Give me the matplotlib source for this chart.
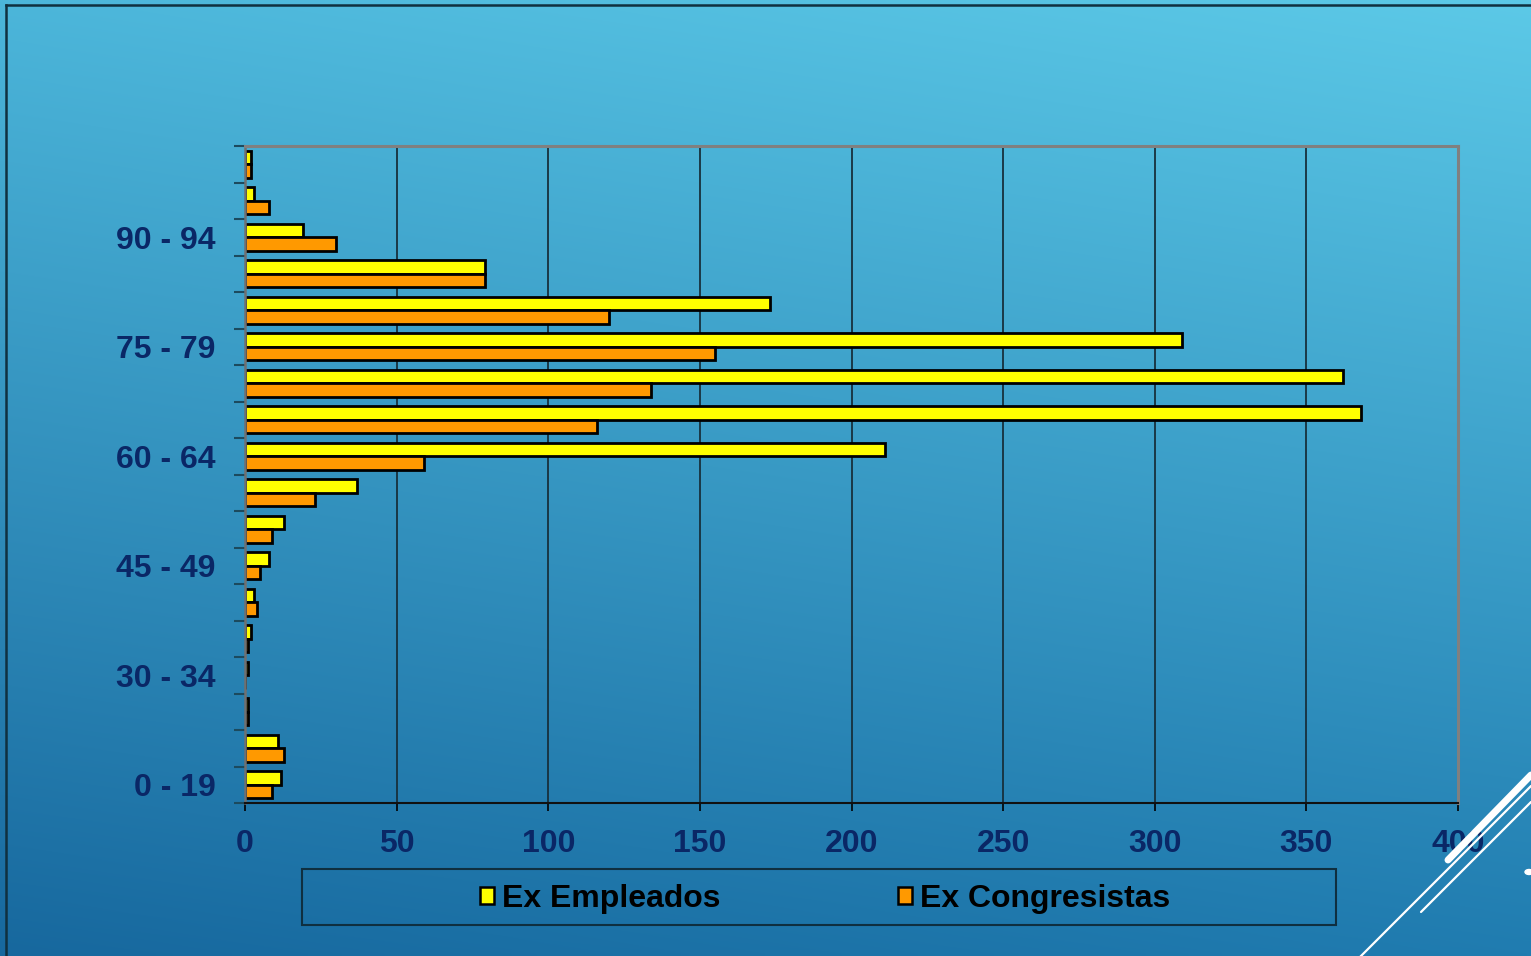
import numpy as np
import matplotlib
matplotlib.use("Agg")
import matplotlib.pyplot as plt
from matplotlib.patches import Patch, Rectangle, Circle
from matplotlib.lines import Line2D

# age groups, bottom to top
categories = ["0 - 19", "20 - 24", "25 - 29", "30 - 34", "35 - 39", "40 - 44",
              "45 - 49", "50 - 54", "55 - 59", "60 - 64", "65 - 69", "70 - 74",
              "75 - 79", "80 - 84", "85 - 89", "90 - 94", "95 - 99", "100 +"]
ex_empleados = [12, 11, 1, 1, 2, 3, 8, 13, 37, 211, 368, 362, 309, 173, 79, 19, 3, 2]
ex_congresistas = [9, 13, 1, 0, 1, 4, 5, 9, 23, 59, 116, 134, 155, 120, 79, 30, 8, 2]
x_ticks = [0, 50, 100, 150, 200, 250, 300, 350, 400]
labelled_every = 3

W, H = 1531, 956
plt.rcParams['font.family'] = ['Liberation Sans', 'DejaVu Sans']
fig = plt.figure(figsize=(W / 100, H / 100), dpi=100)


def px(x, y):
    return x / W, 1 - y / H


# background gradient (light top-right -> dark bottom-left)
bg = fig.add_axes([0, 0, 1, 1], zorder=-10)
tl = np.array([0x4c, 0xb6, 0xda]) / 255
tr = np.array([0x5c, 0xc9, 0xe7]) / 255
bl = np.array([0x17, 0x68, 0x9e]) / 255
br = np.array([0x20, 0x7c, 0xb0]) / 255
u = np.linspace(0, 1, 200)[None, :, None]
v = np.linspace(0, 1, 200)[:, None, None]
grad = (1 - v) * ((1 - u) * tl + u * tr) + v * ((1 - u) * bl + u * br)
bg.imshow(grad, aspect='auto', extent=[0, 1, 0, 1], interpolation='bilinear')
bg.axis('off')

# slide frame lines
fig.add_artist(Line2D([px(6, 0)[0], px(6, 956)[0]], [px(6, 5)[1], px(6, 956)[1]],
                      color='#10303f', lw=1.8))
fig.add_artist(Line2D([px(6, 5)[0], 1], [px(6, 5)[1], px(6, 5)[1]],
                      color='#10303f', lw=1.8))

# decorative white lines bottom right
for (x0, y0, x1, y1, lw) in [(1531, 775, 1448, 860, 5), (1531, 786, 1360, 957, 1.6),
                              (1531, 802, 1421, 912, 1.6)]:
    a, b = px(x0, y0), px(x1, y1)
    fig.add_artist(Line2D([a[0], b[0]], [a[1], b[1]], color='white', lw=lw,
                          solid_capstyle='round'))
fig.add_artist(Circle(px(1529, 872), 4 / W, transform=fig.transFigure, color='white'))

ax = fig.add_axes([245 / W, 1 - 803 / H, (1458 - 245) / W, (803 - 146) / H])
ax.patch.set_alpha(0)

y = np.arange(len(categories))
h = 0.37
ax.barh(y + h / 2, ex_empleados, height=h, color='#ffff00', edgecolor='black',
        linewidth=2.0, label='Ex Empleados', zorder=3)
ax.barh(y - h / 2, ex_congresistas, height=h, color='#ff9900', edgecolor='black',
        linewidth=2.0, label='Ex Congresistas', zorder=3)

ax.set_xlim(0, 400)
ax.set_ylim(-0.5, len(categories) - 0.5)

label_col = '#0a2766'
ax.set_xticks(x_ticks)
ax.set_xticklabels([str(t) for t in x_ticks])
ax.tick_params(axis='x', direction='out', length=6, width=1.2, color='black',
               pad=13, labelsize=23, labelcolor=label_col)
for lab in ax.get_xticklabels():
    lab.set_fontweight('bold')

ax.set_yticks(np.arange(-0.5, len(categories), 1.0))
ax.set_yticklabels([])
ax.tick_params(axis='y', which='major', direction='out', length=8, width=1.5,
               color='#1c4a5e')
ax.set_yticks(y[::labelled_every], minor=True)
ax.set_yticklabels(categories[::labelled_every], minor=True, fontweight='bold')
ax.tick_params(axis='y', which='minor', length=0, pad=21, labelsize=23,
               labelcolor=label_col)

ax.grid(axis='x', color='#17303c', linewidth=1.3, zorder=1)
for side in ['top', 'right']:
    ax.spines[side].set_color('#808080')
    ax.spines[side].set_linewidth(2.2)
ax.spines['left'].set_color('#707070')
ax.spines['left'].set_linewidth(1.8)
ax.spines['bottom'].set_color('#111111')
ax.spines['bottom'].set_linewidth(1.5)
for s in ax.spines.values():
    s.set_zorder(4)

# legend box and entries
x0, y0 = px(302, 925)
x1, y1 = px(1336, 869)
fig.add_artist(Rectangle((x0, y0), x1 - x0, y1 - y0, transform=fig.transFigure,
                         fill=False, edgecolor='#0f2f40', linewidth=1.5))
handles = [Patch(facecolor='#ffff00', edgecolor='black', linewidth=1.8, label='Ex Empleados'),
           Patch(facecolor='#ff9900', edgecolor='black', linewidth=1.8, label='Ex Congresistas')]
fig.legend(handles=handles, loc='center', bbox_to_anchor=px(825, 899), ncol=2,
           frameon=False, prop={'size': 23, 'weight': 'bold'}, handlelength=0.45,
           handleheight=0.45, handletextpad=0.25, columnspacing=5.55, borderaxespad=0)

fig.savefig("out.png", dpi=100)
